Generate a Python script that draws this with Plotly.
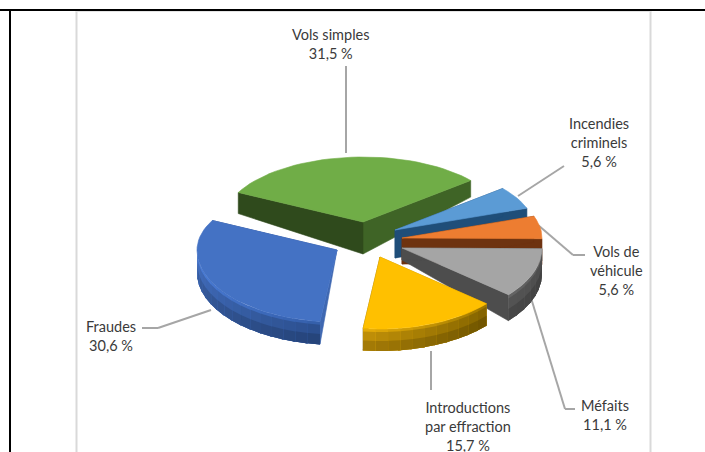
import math
import plotly.graph_objects as go

# ---- data ----
categories = ["Vols simples", "Incendies criminels", "Vols de véhicule", "Méfaits",
              "Introductions par effraction", "Fraudes"]
values = [31.5, 5.6, 5.6, 11.1, 15.7, 30.6]
value_labels = ["31,5 %", "5,6 %", "5,6 %", "11,1 %", "15,7 %", "30,6 %"]

# ---- pie styling / layout (pixel space) ----
START = -63.0
RX, RY_BACK, RY_FRONT = 140.0, 65.0, 72.0
apex = [(363, 222), (395, 230), (402, 238), (402, 248), (380, 257), (337, 250)]
depth0 = [32, 28, 26, 12, 22, 1]
slope = [0.37, 0, 0, 0.3, 0, 0.3]
rim_depth = [0, 0, 0, 26, 22, 23]
top_col = ["#70ad47", "#5b9bd5", "#ed7d31", "#a5a5a5", "#ffc000", "#4472c4"]
rim_a = ["#43682b", "#255e91", "#843c0c", "#505050", "#b88a08", "#4069b4"]
rim_b = ["#43682b", "#255e91", "#843c0c", "#484848", "#7c5e00", "#2a4c88"]
cut0_col = ["#2f4a1c", "#1f4e79", "#6e3310", "#4d4d4d", "#b88a08", "#3f68b2"]
cut1_col = ["#3f6426", "#1f4e79", "#6e3310", "#4d4d4d", "#7c5e00", "#35599c"]
bands = [(0.0, 1.25), (0.14, 1.05), (0.55, 0.9)]
draw_order = [0, 1, 2, 3, 5, 4]

label_pos = [
    (331, 24, "Vols simples<br>31,5 %"),
    (599, 112.5, "Incendies<br>criminels<br>5,6 %"),
    (616, 240.5, "Vols de<br>véhicule<br>5,6 %"),
    (605, 394.5, "Méfaits<br>11,1 %"),
    (468, 397, "Introductions<br>par effraction<br>15,7 %"),
    (111, 316, "Fraudes<br>30,6 %"),
]
leaders = [
    [(346, 66), (346, 153)],
    [(518, 196), (564, 166)],
    [(538, 225), (573, 255), (585, 255)],
    [(531, 298), (565, 409), (575, 409)],
    [(431, 351), (431, 390)],
    [(211, 310), (158, 328), (142, 328)],
]


def rgb(h):
    return tuple(int(h[i:i + 2], 16) for i in (1, 3, 5))


def mix(a, b, f, k=1.0):
    ca, cb = rgb(a), rgb(b)
    return "rgb(%d,%d,%d)" % tuple(min(255, int((ca[i] + (cb[i] - ca[i]) * f) * k)) for i in range(3))


def pt(i, theta):
    t = math.radians(theta)
    c = math.cos(t)
    ry = RY_BACK if c >= 0 else RY_FRONT
    return apex[i][0] + RX * math.sin(t), apex[i][1] - ry * c


def depth(i, y):
    return max(0.0, depth0[i] + slope[i] * (y - apex[i][1]))


fig = go.Figure()


def poly(pts, color, name, w=0.6):
    fig.add_trace(go.Scatter(x=[p[0] for p in pts] + [pts[0][0]], y=[p[1] for p in pts] + [pts[0][1]],
                             mode="lines", fill="toself", fillcolor=color,
                             line=dict(color=color, width=w), name=name,
                             hoverinfo="skip", showlegend=False))


total = sum(values)
angles = [START]
for v in values:
    angles.append(angles[-1] + v / total * 360.0)

for i in draw_order:
    t0, t1 = angles[i], angles[i + 1]
    n = max(4, int((t1 - t0) / 3))
    arc = [pt(i, t0 + (t1 - t0) * k / n) for k in range(n + 1)]
    a = apex[i]
    # cut faces
    for theta, col in ((t1, cut1_col[i]), (t0, cut0_col[i])):
        e = pt(i, theta)
        poly([a, e, (e[0], e[1] + depth(i, e[1])), (a[0], a[1] + depth(i, a[1]))], col, categories[i])
    # outer rim (front-facing part only); each band overdraws everything beneath it
    lo, hi = max(t0, 90.0), min(t1, 270.0)
    if hi > lo and rim_depth[i]:
        m = max(3, int((hi - lo) / 5))
        d = rim_depth[i]
        for s in range(m):
            p0, p1 = pt(i, lo + (hi - lo) * s / m), pt(i, lo + (hi - lo) * min(m, s + 1.2) / m)
            for z0, k in bands:
                col = mix(rim_a[i], rim_b[i], 1 - (s + 0.5) / m, k)
                poly([(p0[0], p0[1] + z0 * d), (p1[0], p1[1] + z0 * d),
                      (p1[0], p1[1] + d), (p0[0], p0[1] + d)], col, categories[i], 0)
    # top face
    poly([a] + arc, top_col[i], categories[i])

shapes = []
def line(x0, y0, x1, y1, color, width):
    shapes.append(dict(type="line", x0=x0, y0=y0, x1=x1, y1=y1, xref="x", yref="y",
                       line=dict(color=color, width=width), layer="below"))

line(76.5, 11, 76.5, 452, "#d9d9d9", 2)
line(650.5, 11, 650.5, 452, "#d9d9d9", 2)
line(76, 11.5, 651, 11.5, "#e4e4e4", 1)
line(0, 10, 705, 10, "#000000", 2)
line(10, 10, 10, 452, "#000000", 2)
for seg in leaders:
    for p, q in zip(seg, seg[1:]):
        line(p[0], p[1], q[0], q[1], "#a6a6a6", 2)

annotations = [dict(x=x, y=y, text=t, xref="x", yref="y", showarrow=False, align="center",
                    xanchor="center", yanchor="top",
                    font=dict(family="Lato", size=14.5, color="#3a3a3a"))
               for x, y, t in label_pos]

fig.update_layout(
    width=705, height=452, margin=dict(l=0, r=0, t=0, b=0),
    paper_bgcolor="white", plot_bgcolor="white", showlegend=False,
    xaxis=dict(range=[0, 705], visible=False, fixedrange=True),
    yaxis=dict(range=[452, 0], visible=False, fixedrange=True),
    shapes=shapes, annotations=annotations,
)
fig.write_html("out.html", config={"displayModeBar": False},
               post_script="document.body.style.margin='0';document.documentElement.style.overflow='hidden';")
